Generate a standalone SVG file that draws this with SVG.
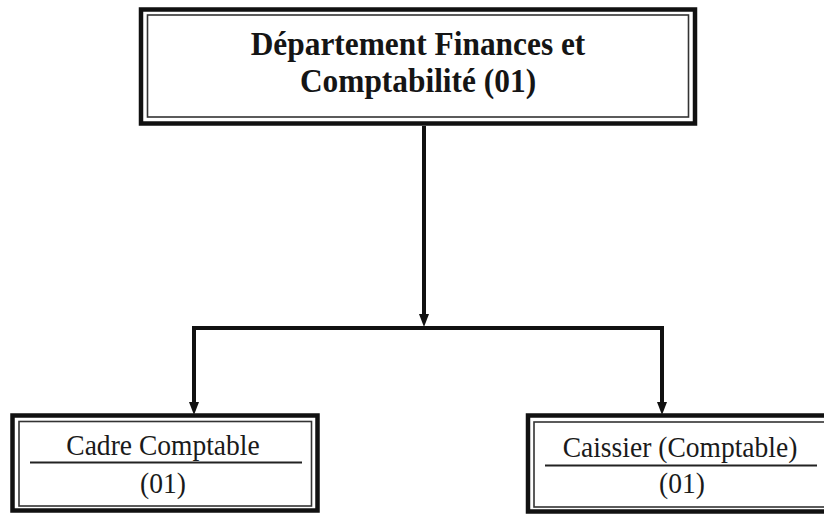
<svg xmlns="http://www.w3.org/2000/svg" width="824" height="515" viewBox="0 0 824 515">
  <defs>
    <style>
      .outer { fill: none; stroke: #111; stroke-width: 4.5; }
      .inner { fill: none; stroke: #333; stroke-width: 1.6; }
      .rule { stroke: #222; stroke-width: 1.8; }
      .wire { fill: none; stroke: #111; stroke-width: 4; }
      .title { font-family: "Liberation Serif", "Times New Roman", serif; font-weight: bold; font-size: 34.5px; fill: #151515; text-anchor: middle; }
      .label { font-family: "Liberation Serif", "Times New Roman", serif; font-size: 29px; fill: #1a1a1a; text-anchor: middle; }
    </style>
  </defs>

  <rect width="824" height="515" fill="#fff"/>

  <!-- connectors -->
  <g id="connectors">
    <line class="wire" x1="424" y1="126" x2="424" y2="316"/>
    <path d="M419,314 L429,314 L424,327 Z" fill="#111"/>
    <line class="wire" x1="192" y1="328" x2="664" y2="328"/>
    <line class="wire" x1="194" y1="326" x2="194" y2="404"/>
    <path d="M189,402 L199,402 L194,415 Z" fill="#111"/>
    <line class="wire" x1="662" y1="326" x2="662" y2="404"/>
    <path d="M657,402 L667,402 L662,415 Z" fill="#111"/>
  </g>

  <!-- department head box -->
  <g id="node-departement">
    <rect class="outer" x="141" y="9.5" width="554" height="114"/>
    <rect class="inner" x="147.5" y="15" width="541" height="102"/>
    <text class="title" transform="translate(418 55) scale(0.91 1)">Département Finances et</text>
    <text class="title" transform="translate(418 92) scale(0.91 1)">Comptabilité (01)</text>
  </g>

  <!-- accountant box -->
  <g id="node-cadre">
    <rect class="outer" x="12.5" y="415.5" width="305" height="95"/>
    <rect class="inner" x="19" y="421.5" width="292.5" height="84.5"/>
    <text class="label" transform="translate(163 455) scale(0.95 1)">Cadre Comptable</text>
    <line class="rule" x1="30" y1="462.5" x2="302" y2="462.5"/>
    <text class="label" transform="translate(163 493) scale(0.95 1)">(01)</text>
  </g>

  <!-- cashier box -->
  <g id="node-caissier">
    <rect class="outer" x="528" y="415.5" width="302" height="96"/>
    <rect class="inner" x="534" y="422" width="294" height="85"/>
    <text class="label" transform="translate(680 457) scale(0.95 1)">Caissier (Comptable)</text>
    <line class="rule" x1="545" y1="465.5" x2="817" y2="465.5"/>
    <text class="label" transform="translate(682 493) scale(0.95 1)">(01)</text>
  </g>
</svg>
